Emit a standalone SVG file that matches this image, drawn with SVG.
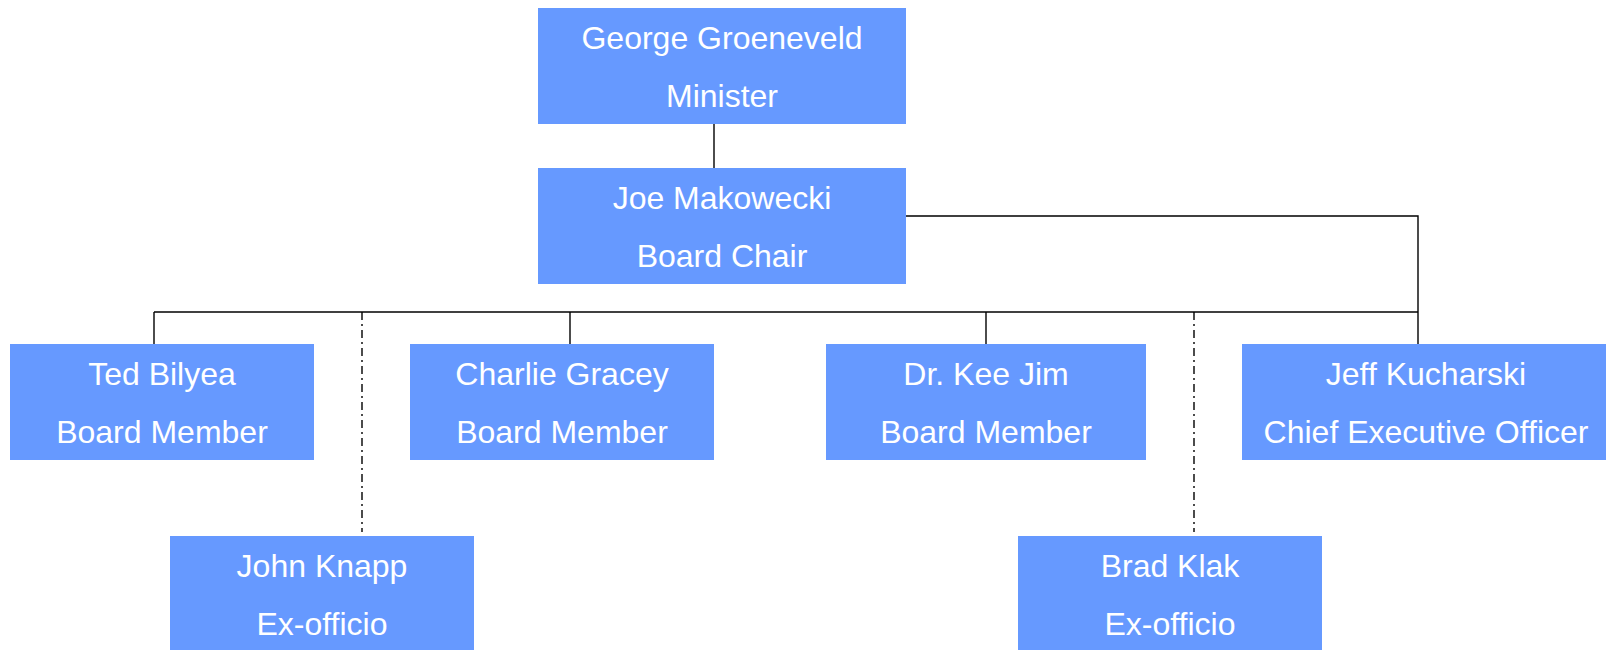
<svg xmlns="http://www.w3.org/2000/svg" width="1606" height="650" viewBox="0 0 1606 650">
  <style>
    .box { fill: #6699FF; }
    .lbl { font-family: "Liberation Sans", Arial, sans-serif; font-size: 32px; fill: #FFFFFF; text-anchor: middle; }
    .solid { fill: none; stroke: #000000; stroke-width: 1.4; }
    .dashdot { fill: none; stroke: #000000; stroke-width: 1.4; stroke-dasharray: 8 4 2 4; }
  </style>
  <rect width="1606" height="650" fill="#FFFFFF"/>

  <g id="connectors">
    <line class="solid" x1="714" y1="119" x2="714" y2="168"/>
    <polyline class="solid" points="906,216 1418,216 1418,344"/>
    <line class="solid" x1="154" y1="312" x2="1418" y2="312"/>
    <line class="solid" x1="154" y1="312" x2="154" y2="344"/>
    <line class="solid" x1="570" y1="312" x2="570" y2="344"/>
    <line class="solid" x1="986" y1="312" x2="986" y2="344"/>
    <line class="dashdot" x1="362" y1="312" x2="362" y2="532"/>
    <line class="dashdot" x1="1194" y1="312" x2="1194" y2="532"/>
  </g>

  <g id="minister">
    <rect class="box" x="538" y="8" width="368" height="116"/>
    <text class="lbl" x="722" y="49">George Groeneveld</text>
    <text class="lbl" x="722" y="107">Minister</text>
  </g>

  <g id="board-chair">
    <rect class="box" x="538" y="168" width="368" height="116"/>
    <text class="lbl" x="722" y="209">Joe Makowecki</text>
    <text class="lbl" x="722" y="267">Board Chair</text>
  </g>

  <g id="ted-bilyea">
    <rect class="box" x="10" y="344" width="304" height="116"/>
    <text class="lbl" x="162" y="385">Ted Bilyea</text>
    <text class="lbl" x="162" y="443">Board Member</text>
  </g>

  <g id="charlie-gracey">
    <rect class="box" x="410" y="344" width="304" height="116"/>
    <text class="lbl" x="562" y="385">Charlie Gracey</text>
    <text class="lbl" x="562" y="443">Board Member</text>
  </g>

  <g id="kee-jim">
    <rect class="box" x="826" y="344" width="320" height="116"/>
    <text class="lbl" x="986" y="385">Dr. Kee Jim</text>
    <text class="lbl" x="986" y="443">Board Member</text>
  </g>

  <g id="jeff-kucharski">
    <rect class="box" x="1242" y="344" width="368" height="116"/>
    <text class="lbl" x="1426" y="385">Jeff Kucharski</text>
    <text class="lbl" x="1426" y="443">Chief Executive Officer</text>
  </g>

  <g id="john-knapp">
    <rect class="box" x="170" y="536" width="304" height="116"/>
    <text class="lbl" x="322" y="577">John Knapp</text>
    <text class="lbl" x="322" y="635">Ex-officio</text>
  </g>

  <g id="brad-klak">
    <rect class="box" x="1018" y="536" width="304" height="116"/>
    <text class="lbl" x="1170" y="577">Brad Klak</text>
    <text class="lbl" x="1170" y="635">Ex-officio</text>
  </g>
</svg>
